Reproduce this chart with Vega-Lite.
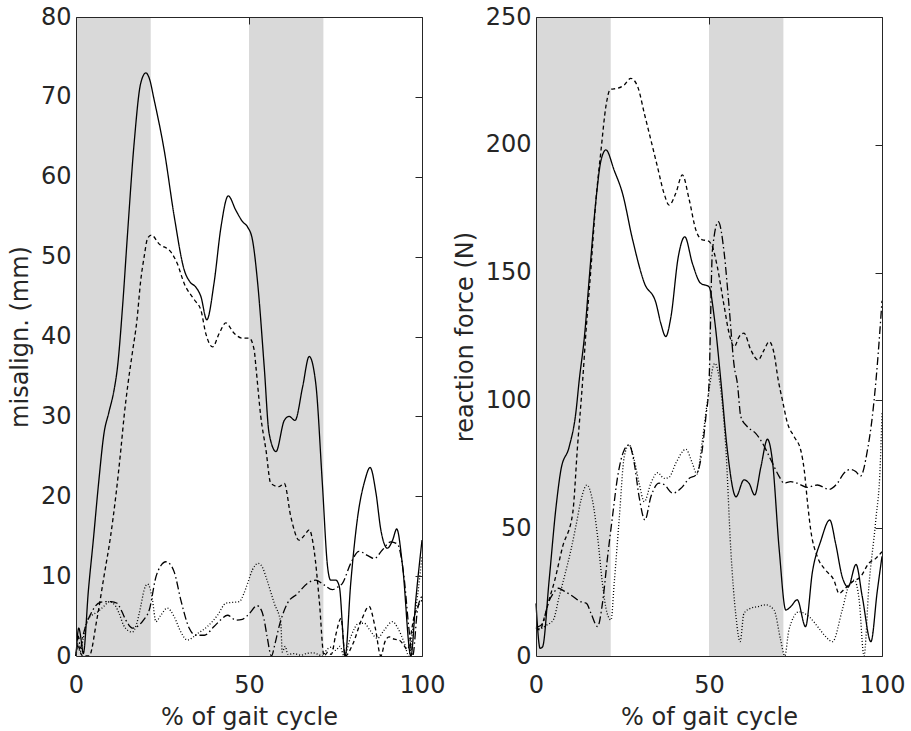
{
  "$schema": "https://vega.github.io/schema/vega-lite/v6.json",
  "background": "white",
  "padding": {"left": 8, "top": 5, "right": 5, "bottom": 5},
  "spacing": 8,
  "config": {
    "view": {"stroke": null},
    "font": "DejaVu Sans",
    "axis": {
      "labelFont": "DejaVu Sans", "titleFont": "DejaVu Sans",
      "labelFontSize": 24, "titleFontSize": 24,
      "labelColor": "#262626", "titleColor": "#262626",
      "titleFontWeight": "normal", "domainColor": "#262626", "tickColor": "#262626",
      "domainWidth": 1, "tickWidth": 1, "grid": false, "labelFlush": false, "labelOverlap": false
    }
  },
  "datasets": {
    "bands": [{"start": 0, "end": 21.6}, {"start": 50, "end": 71.5}],
    "mis": [
      {"s": "a", "x": 0, "y": 0}, {"s": "a", "x": 0.8, "y": 3.5}, {"s": "a", "x": 1.5, "y": 2.0}, {"s": "a", "x": 2.1, "y": 0.3}, {"s": "a", "x": 3.6, "y": 8.3}, {"s": "a", "x": 5, "y": 14.5}, {"s": "a", "x": 6.5, "y": 21.5}, {"s": "a", "x": 8.1, "y": 27.9}, {"s": "a", "x": 9.5, "y": 30.5}, {"s": "a", "x": 11, "y": 33.3}, {"s": "a", "x": 12, "y": 36.2}, {"s": "a", "x": 13.5, "y": 44}, {"s": "a", "x": 14.9, "y": 52.9}, {"s": "a", "x": 16.8, "y": 64.2}, {"s": "a", "x": 18.7, "y": 71.7}, {"s": "a", "x": 20.2, "y": 73.0}, {"s": "a", "x": 21.2, "y": 72.3}, {"s": "a", "x": 22.6, "y": 69.6}, {"s": "a", "x": 25.5, "y": 63.3}, {"s": "a", "x": 28.4, "y": 55.0}, {"s": "a", "x": 31.3, "y": 48.3}, {"s": "a", "x": 33, "y": 46.8}, {"s": "a", "x": 34.6, "y": 46.2}, {"s": "a", "x": 36.1, "y": 45.0}, {"s": "a", "x": 37.8, "y": 42.1}, {"s": "a", "x": 39.9, "y": 46.7}, {"s": "a", "x": 41.9, "y": 53.7}, {"s": "a", "x": 44.0, "y": 57.6}, {"s": "a", "x": 46.2, "y": 55.8}, {"s": "a", "x": 48.1, "y": 54.4}, {"s": "a", "x": 49.6, "y": 53.7}, {"s": "a", "x": 51.0, "y": 52.1}, {"s": "a", "x": 52.5, "y": 46.7}, {"s": "a", "x": 54.4, "y": 36.2}, {"s": "a", "x": 55.8, "y": 27.9}, {"s": "a", "x": 57.8, "y": 25.6}, {"s": "a", "x": 60.2, "y": 29.5}, {"s": "a", "x": 61.6, "y": 30.0}, {"s": "a", "x": 63.3, "y": 29.5}, {"s": "a", "x": 65.5, "y": 33.7}, {"s": "a", "x": 67.4, "y": 37.5}, {"s": "a", "x": 69.3, "y": 34.1}, {"s": "a", "x": 71.2, "y": 21.6}, {"s": "a", "x": 72.7, "y": 11.2}, {"s": "a", "x": 73.6, "y": 9.5}, {"s": "a", "x": 75.1, "y": 9.5}, {"s": "a", "x": 76.1, "y": 8.7}, {"s": "a", "x": 77.8, "y": 0}, {"s": "a", "x": 79.4, "y": 9.1}, {"s": "a", "x": 81.4, "y": 17.4}, {"s": "a", "x": 83.5, "y": 22}, {"s": "a", "x": 85.0, "y": 23.6}, {"s": "a", "x": 86.7, "y": 20.4}, {"s": "a", "x": 88.1, "y": 15.8}, {"s": "a", "x": 90.0, "y": 13.5}, {"s": "a", "x": 91.5, "y": 14.5}, {"s": "a", "x": 92.7, "y": 15.9}, {"s": "a", "x": 94.4, "y": 11.2}, {"s": "a", "x": 96.8, "y": 0}, {"s": "a", "x": 98.2, "y": 7.0}, {"s": "a", "x": 100, "y": 14.5},

      {"s": "b", "x": 0, "y": 0}, {"s": "b", "x": 0.6, "y": 1.5}, {"s": "b", "x": 1.2, "y": 0.5}, {"s": "b", "x": 2, "y": 0}, {"s": "b", "x": 3.8, "y": 0}, {"s": "b", "x": 6, "y": 4.5}, {"s": "b", "x": 8.1, "y": 10}, {"s": "b", "x": 10, "y": 15}, {"s": "b", "x": 11.5, "y": 20}, {"s": "b", "x": 13, "y": 26}, {"s": "b", "x": 13.9, "y": 30}, {"s": "b", "x": 15, "y": 34}, {"s": "b", "x": 16.3, "y": 38}, {"s": "b", "x": 17.6, "y": 42}, {"s": "b", "x": 18.7, "y": 47}, {"s": "b", "x": 19.7, "y": 50}, {"s": "b", "x": 20.7, "y": 52.3}, {"s": "b", "x": 21.8, "y": 52.7}, {"s": "b", "x": 24.0, "y": 51.6}, {"s": "b", "x": 27.4, "y": 50.6}, {"s": "b", "x": 29.3, "y": 49.1}, {"s": "b", "x": 31.3, "y": 46.6}, {"s": "b", "x": 34.2, "y": 44.6}, {"s": "b", "x": 36.1, "y": 43.3}, {"s": "b", "x": 37.5, "y": 40.4}, {"s": "b", "x": 39.5, "y": 38.7}, {"s": "b", "x": 41.4, "y": 40.4}, {"s": "b", "x": 43.3, "y": 41.7}, {"s": "b", "x": 45.7, "y": 40.4}, {"s": "b", "x": 48.1, "y": 39.8}, {"s": "b", "x": 50.1, "y": 39.8}, {"s": "b", "x": 51.5, "y": 38.3}, {"s": "b", "x": 52.0, "y": 36.2}, {"s": "b", "x": 53.4, "y": 30.0}, {"s": "b", "x": 54.9, "y": 25.8}, {"s": "b", "x": 56.3, "y": 21.6}, {"s": "b", "x": 58.7, "y": 21.2}, {"s": "b", "x": 60.2, "y": 21.6}, {"s": "b", "x": 62.1, "y": 17.4}, {"s": "b", "x": 64.5, "y": 14.5}, {"s": "b", "x": 66.0, "y": 15.1}, {"s": "b", "x": 67.4, "y": 15.8}, {"s": "b", "x": 68.8, "y": 13.3}, {"s": "b", "x": 70.3, "y": 7.0}, {"s": "b", "x": 71.7, "y": 0}, {"s": "b", "x": 72.8, "y": 0.5}, {"s": "b", "x": 73.8, "y": 0.2}, {"s": "b", "x": 75, "y": 2.5}, {"s": "b", "x": 76.6, "y": 4.7}, {"s": "b", "x": 77.8, "y": 0}, {"s": "b", "x": 80, "y": 1.5}, {"s": "b", "x": 82.5, "y": 4.5}, {"s": "b", "x": 84.7, "y": 6.2}, {"s": "b", "x": 86.5, "y": 3.5}, {"s": "b", "x": 88.1, "y": 0}, {"s": "b", "x": 89.3, "y": 1.8}, {"s": "b", "x": 90.5, "y": 2.4}, {"s": "b", "x": 92, "y": 2.1}, {"s": "b", "x": 93.4, "y": 2.0}, {"s": "b", "x": 94.5, "y": 1.5}, {"s": "b", "x": 95.8, "y": 0.8}, {"s": "b", "x": 97.7, "y": 4.9}, {"s": "b", "x": 100, "y": 7.0},

      {"s": "c", "x": 0, "y": 0}, {"s": "c", "x": 0.7, "y": 2.5}, {"s": "c", "x": 1.3, "y": 1.0}, {"s": "c", "x": 2, "y": 2.5}, {"s": "c", "x": 3, "y": 4}, {"s": "c", "x": 4.3, "y": 5.3}, {"s": "c", "x": 5.5, "y": 6.2}, {"s": "c", "x": 7, "y": 6.7}, {"s": "c", "x": 8.5, "y": 6.8}, {"s": "c", "x": 10.1, "y": 6.8}, {"s": "c", "x": 11.9, "y": 6.6}, {"s": "c", "x": 13, "y": 5.8}, {"s": "c", "x": 14.4, "y": 4.5}, {"s": "c", "x": 16.3, "y": 3.5}, {"s": "c", "x": 18.3, "y": 3.9}, {"s": "c", "x": 19.5, "y": 4.5}, {"s": "c", "x": 21.2, "y": 5.8}, {"s": "c", "x": 23.1, "y": 9.9}, {"s": "c", "x": 24.5, "y": 11.3}, {"s": "c", "x": 26.0, "y": 11.8}, {"s": "c", "x": 27.2, "y": 11.5}, {"s": "c", "x": 28.4, "y": 10.5}, {"s": "c", "x": 30.3, "y": 7.0}, {"s": "c", "x": 32.7, "y": 3.5}, {"s": "c", "x": 34.6, "y": 2.6}, {"s": "c", "x": 37.1, "y": 2.6}, {"s": "c", "x": 39.9, "y": 3.7}, {"s": "c", "x": 42, "y": 4.6}, {"s": "c", "x": 43.8, "y": 5.1}, {"s": "c", "x": 46.2, "y": 4.5}, {"s": "c", "x": 48.1, "y": 4.6}, {"s": "c", "x": 50.1, "y": 5.3}, {"s": "c", "x": 52.3, "y": 6.3}, {"s": "c", "x": 53.5, "y": 5.8}, {"s": "c", "x": 54.4, "y": 4.5}, {"s": "c", "x": 55.2, "y": 2.5}, {"s": "c", "x": 56.5, "y": 0}, {"s": "c", "x": 57.5, "y": 1.5}, {"s": "c", "x": 58.7, "y": 3.7}, {"s": "c", "x": 61.1, "y": 6.6}, {"s": "c", "x": 64.0, "y": 7.8}, {"s": "c", "x": 66.9, "y": 9.1}, {"s": "c", "x": 69.3, "y": 9.5}, {"s": "c", "x": 71.7, "y": 8.9}, {"s": "c", "x": 74.1, "y": 8.3}, {"s": "c", "x": 75.5, "y": 8.6}, {"s": "c", "x": 77.0, "y": 9.1}, {"s": "c", "x": 79.4, "y": 11.6}, {"s": "c", "x": 81.8, "y": 13.1}, {"s": "c", "x": 84.2, "y": 12.6}, {"s": "c", "x": 86.2, "y": 12.2}, {"s": "c", "x": 88.6, "y": 13.3}, {"s": "c", "x": 91.0, "y": 14.3}, {"s": "c", "x": 92.9, "y": 14.0}, {"s": "c", "x": 94.9, "y": 9.5}, {"s": "c", "x": 96.2, "y": 3.5}, {"s": "c", "x": 97.3, "y": 0}, {"s": "c", "x": 98.7, "y": 5.8}, {"s": "c", "x": 100, "y": 7.5},

      {"s": "d", "x": 0, "y": 0}, {"s": "d", "x": 0.5, "y": 1.5}, {"s": "d", "x": 1.2, "y": 0.5}, {"s": "d", "x": 2, "y": 2}, {"s": "d", "x": 3.3, "y": 4.5}, {"s": "d", "x": 4.6, "y": 5.1}, {"s": "d", "x": 6.2, "y": 5.5}, {"s": "d", "x": 8, "y": 6.2}, {"s": "d", "x": 9.7, "y": 6.8}, {"s": "d", "x": 11.5, "y": 6.2}, {"s": "d", "x": 12.5, "y": 5.3}, {"s": "d", "x": 13.7, "y": 3.9}, {"s": "d", "x": 15, "y": 3.2}, {"s": "d", "x": 16.3, "y": 3.0}, {"s": "d", "x": 17.5, "y": 4}, {"s": "d", "x": 18.7, "y": 6.2}, {"s": "d", "x": 19.7, "y": 8.3}, {"s": "d", "x": 20.7, "y": 9.0}, {"s": "d", "x": 21.5, "y": 8.3}, {"s": "d", "x": 22.1, "y": 7.0}, {"s": "d", "x": 23.1, "y": 4.3}, {"s": "d", "x": 24.5, "y": 5.1}, {"s": "d", "x": 26.4, "y": 6.0}, {"s": "d", "x": 28.4, "y": 4.9}, {"s": "d", "x": 30.3, "y": 3.0}, {"s": "d", "x": 32.2, "y": 2.0}, {"s": "d", "x": 35.1, "y": 2.8}, {"s": "d", "x": 38.0, "y": 3.7}, {"s": "d", "x": 40.9, "y": 5.1}, {"s": "d", "x": 43.3, "y": 6.6}, {"s": "d", "x": 45, "y": 6.7}, {"s": "d", "x": 47.2, "y": 6.8}, {"s": "d", "x": 48.5, "y": 7.8}, {"s": "d", "x": 49.6, "y": 9.1}, {"s": "d", "x": 51, "y": 10.8}, {"s": "d", "x": 52.7, "y": 11.6}, {"s": "d", "x": 54, "y": 11}, {"s": "d", "x": 54.9, "y": 9.9}, {"s": "d", "x": 57.3, "y": 6.6}, {"s": "d", "x": 59.2, "y": 4.1}, {"s": "d", "x": 59.6, "y": 0.5}, {"s": "d", "x": 60.5, "y": 1.2}, {"s": "d", "x": 61.2, "y": 0.2}, {"s": "d", "x": 63, "y": 0.3}, {"s": "d", "x": 65, "y": 0.1}, {"s": "d", "x": 66.5, "y": 0.3}, {"s": "d", "x": 68.4, "y": 0.4}, {"s": "d", "x": 70, "y": 0.2}, {"s": "d", "x": 71.2, "y": 0}, {"s": "d", "x": 72.5, "y": 0.8}, {"s": "d", "x": 73.9, "y": 1.1}, {"s": "d", "x": 75, "y": 0.7}, {"s": "d", "x": 76.3, "y": 1.2}, {"s": "d", "x": 77.5, "y": 0}, {"s": "d", "x": 79.4, "y": 2.4}, {"s": "d", "x": 81.8, "y": 4.1}, {"s": "d", "x": 83.3, "y": 4.1}, {"s": "d", "x": 85, "y": 3.2}, {"s": "d", "x": 87.1, "y": 2.2}, {"s": "d", "x": 89, "y": 3.2}, {"s": "d", "x": 91.5, "y": 4.3}, {"s": "d", "x": 93, "y": 3.5}, {"s": "d", "x": 94.9, "y": 1.6}, {"s": "d", "x": 96.2, "y": 0}, {"s": "d", "x": 97.5, "y": 4}, {"s": "d", "x": 98.7, "y": 7.5}, {"s": "d", "x": 100, "y": 12.5}
    ],
    "force": [
      {"s": "a", "x": 0, "y": 20.6}, {"s": "a", "x": 1.2, "y": 3.0}, {"s": "a", "x": 1.9, "y": 3.6}, {"s": "a", "x": 3.8, "y": 29.7}, {"s": "a", "x": 5.8, "y": 58.4}, {"s": "a", "x": 7.2, "y": 72.8}, {"s": "a", "x": 9.6, "y": 81.9}, {"s": "a", "x": 11.5, "y": 95}, {"s": "a", "x": 12.5, "y": 108}, {"s": "a", "x": 14, "y": 125}, {"s": "a", "x": 15.4, "y": 148}, {"s": "a", "x": 17.3, "y": 178}, {"s": "a", "x": 18.8, "y": 194}, {"s": "a", "x": 20.2, "y": 198}, {"s": "a", "x": 22.6, "y": 190}, {"s": "a", "x": 25, "y": 181}, {"s": "a", "x": 27.9, "y": 163}, {"s": "a", "x": 31.3, "y": 146}, {"s": "a", "x": 34.7, "y": 138}, {"s": "a", "x": 36.1, "y": 130}, {"s": "a", "x": 37.5, "y": 125}, {"s": "a", "x": 39, "y": 132.7}, {"s": "a", "x": 41.1, "y": 156}, {"s": "a", "x": 43, "y": 164}, {"s": "a", "x": 45.2, "y": 153.6}, {"s": "a", "x": 47.6, "y": 145.8}, {"s": "a", "x": 50, "y": 144.5}, {"s": "a", "x": 51.5, "y": 132.7}, {"s": "a", "x": 53.4, "y": 108}, {"s": "a", "x": 55.3, "y": 80.6}, {"s": "a", "x": 57.8, "y": 62.3}, {"s": "a", "x": 60.1, "y": 68.9}, {"s": "a", "x": 61.6, "y": 67.5}, {"s": "a", "x": 63.2, "y": 63}, {"s": "a", "x": 65, "y": 74}, {"s": "a", "x": 66.9, "y": 84.8}, {"s": "a", "x": 68.3, "y": 76.7}, {"s": "a", "x": 70.3, "y": 41.5}, {"s": "a", "x": 72.2, "y": 18}, {"s": "a", "x": 73.6, "y": 19.3}, {"s": "a", "x": 75.5, "y": 22}, {"s": "a", "x": 77.9, "y": 11.5}, {"s": "a", "x": 79.9, "y": 33}, {"s": "a", "x": 82.3, "y": 45}, {"s": "a", "x": 84.9, "y": 53.2}, {"s": "a", "x": 86.6, "y": 44}, {"s": "a", "x": 88.5, "y": 31}, {"s": "a", "x": 90.2, "y": 27}, {"s": "a", "x": 92.5, "y": 35.8}, {"s": "a", "x": 94.3, "y": 23.2}, {"s": "a", "x": 96.8, "y": 5.6}, {"s": "a", "x": 98.6, "y": 25}, {"s": "a", "x": 100, "y": 39},

      {"s": "b", "x": 0, "y": 11}, {"s": "b", "x": 1.2, "y": 10.2}, {"s": "b", "x": 2.4, "y": 15}, {"s": "b", "x": 4, "y": 23}, {"s": "b", "x": 5.3, "y": 29}, {"s": "b", "x": 7.7, "y": 42.8}, {"s": "b", "x": 10.6, "y": 55.8}, {"s": "b", "x": 12.0, "y": 82}, {"s": "b", "x": 13.5, "y": 108}, {"s": "b", "x": 14.4, "y": 126}, {"s": "b", "x": 15.9, "y": 152}, {"s": "b", "x": 17.3, "y": 178}, {"s": "b", "x": 18.8, "y": 198}, {"s": "b", "x": 20.2, "y": 215}, {"s": "b", "x": 21.5, "y": 221.7}, {"s": "b", "x": 23.6, "y": 222.1}, {"s": "b", "x": 25.5, "y": 223.4}, {"s": "b", "x": 27.4, "y": 226}, {"s": "b", "x": 29.4, "y": 222.7}, {"s": "b", "x": 31.3, "y": 212.3}, {"s": "b", "x": 33.2, "y": 201.9}, {"s": "b", "x": 35.1, "y": 191.4}, {"s": "b", "x": 37, "y": 181}, {"s": "b", "x": 38.5, "y": 176.4}, {"s": "b", "x": 40.4, "y": 181}, {"s": "b", "x": 42.3, "y": 188.2}, {"s": "b", "x": 44.3, "y": 178.4}, {"s": "b", "x": 46.2, "y": 166.7}, {"s": "b", "x": 48.1, "y": 162.8}, {"s": "b", "x": 49.6, "y": 162.5}, {"s": "b", "x": 51.0, "y": 160.1}, {"s": "b", "x": 52.4, "y": 152.3}, {"s": "b", "x": 54.4, "y": 136.7}, {"s": "b", "x": 55.8, "y": 126.3}, {"s": "b", "x": 57.3, "y": 121}, {"s": "b", "x": 58.7, "y": 124.9}, {"s": "b", "x": 60.1, "y": 126.3}, {"s": "b", "x": 62.1, "y": 119.7}, {"s": "b", "x": 64.2, "y": 115.8}, {"s": "b", "x": 65.9, "y": 119.7}, {"s": "b", "x": 67.4, "y": 123}, {"s": "b", "x": 68.8, "y": 118.4}, {"s": "b", "x": 70, "y": 108}, {"s": "b", "x": 71.2, "y": 100.2}, {"s": "b", "x": 72.7, "y": 91}, {"s": "b", "x": 74.6, "y": 85.8}, {"s": "b", "x": 76.5, "y": 80.6}, {"s": "b", "x": 77.5, "y": 73}, {"s": "b", "x": 78.5, "y": 59.7}, {"s": "b", "x": 79.4, "y": 49.3}, {"s": "b", "x": 81.3, "y": 38.9}, {"s": "b", "x": 83.7, "y": 33.6}, {"s": "b", "x": 86.1, "y": 29.7}, {"s": "b", "x": 87.6, "y": 24.5}, {"s": "b", "x": 89, "y": 26}, {"s": "b", "x": 91.5, "y": 29.1}, {"s": "b", "x": 93.8, "y": 31}, {"s": "b", "x": 96.2, "y": 36.3}, {"s": "b", "x": 98.2, "y": 38.2}, {"s": "b", "x": 100, "y": 40.8},

      {"s": "c", "x": 0, "y": 11.5}, {"s": "c", "x": 0.7, "y": 11.5}, {"s": "c", "x": 2, "y": 13}, {"s": "c", "x": 3.5, "y": 20.6}, {"s": "c", "x": 5, "y": 24.5}, {"s": "c", "x": 6.5, "y": 26.5}, {"s": "c", "x": 8, "y": 25.5}, {"s": "c", "x": 10.8, "y": 23.2}, {"s": "c", "x": 12.5, "y": 21.5}, {"s": "c", "x": 14.6, "y": 20.6}, {"s": "c", "x": 15.9, "y": 16.7}, {"s": "c", "x": 17.8, "y": 11.5}, {"s": "c", "x": 19.2, "y": 20.6}, {"s": "c", "x": 20.7, "y": 38.9}, {"s": "c", "x": 22.1, "y": 54.5}, {"s": "c", "x": 23.6, "y": 70.2}, {"s": "c", "x": 25.5, "y": 80.6}, {"s": "c", "x": 26.9, "y": 82.6}, {"s": "c", "x": 28.4, "y": 75.4}, {"s": "c", "x": 29.8, "y": 62.3}, {"s": "c", "x": 31.5, "y": 53.2}, {"s": "c", "x": 33.2, "y": 62.3}, {"s": "c", "x": 35.6, "y": 67.6}, {"s": "c", "x": 37.1, "y": 67}, {"s": "c", "x": 39.5, "y": 63.7}, {"s": "c", "x": 41.9, "y": 65.6}, {"s": "c", "x": 44.3, "y": 69.5}, {"s": "c", "x": 46.2, "y": 70.8}, {"s": "c", "x": 47.6, "y": 76.7}, {"s": "c", "x": 49.1, "y": 93.6}, {"s": "c", "x": 50, "y": 106.7}, {"s": "c", "x": 51, "y": 158.8}, {"s": "c", "x": 52.7, "y": 169.9}, {"s": "c", "x": 54.4, "y": 157.5}, {"s": "c", "x": 55.8, "y": 136.7}, {"s": "c", "x": 57.3, "y": 113.2}, {"s": "c", "x": 58.2, "y": 106.7}, {"s": "c", "x": 59.2, "y": 93.6}, {"s": "c", "x": 61.1, "y": 89.7}, {"s": "c", "x": 63.5, "y": 87.1}, {"s": "c", "x": 65.5, "y": 83.2}, {"s": "c", "x": 67.9, "y": 76.7}, {"s": "c", "x": 70.3, "y": 70.2}, {"s": "c", "x": 71.7, "y": 67.6}, {"s": "c", "x": 73.6, "y": 68.2}, {"s": "c", "x": 75.5, "y": 67.6}, {"s": "c", "x": 78.4, "y": 66}, {"s": "c", "x": 81.3, "y": 66.9}, {"s": "c", "x": 84.7, "y": 65.2}, {"s": "c", "x": 87.1, "y": 67.6}, {"s": "c", "x": 89, "y": 71.5}, {"s": "c", "x": 91, "y": 73}, {"s": "c", "x": 92.4, "y": 72.2}, {"s": "c", "x": 93.8, "y": 70.4}, {"s": "c", "x": 95.8, "y": 80.6}, {"s": "c", "x": 97.2, "y": 93.6}, {"s": "c", "x": 98.6, "y": 113.2}, {"s": "c", "x": 100, "y": 139},

      {"s": "d", "x": 0, "y": 11.5}, {"s": "d", "x": 1.2, "y": 10.7}, {"s": "d", "x": 3.1, "y": 12.1}, {"s": "d", "x": 5, "y": 14.1}, {"s": "d", "x": 6.7, "y": 23.2}, {"s": "d", "x": 8.2, "y": 31}, {"s": "d", "x": 10.1, "y": 41.5}, {"s": "d", "x": 11.5, "y": 50.6}, {"s": "d", "x": 13, "y": 61}, {"s": "d", "x": 14.7, "y": 66.9}, {"s": "d", "x": 16.3, "y": 61}, {"s": "d", "x": 17.8, "y": 46.7}, {"s": "d", "x": 19.2, "y": 28.4}, {"s": "d", "x": 20.5, "y": 17}, {"s": "d", "x": 21.7, "y": 14.1}, {"s": "d", "x": 22.6, "y": 28.4}, {"s": "d", "x": 24.1, "y": 54.5}, {"s": "d", "x": 25.5, "y": 78}, {"s": "d", "x": 26.9, "y": 82.6}, {"s": "d", "x": 28.4, "y": 76.7}, {"s": "d", "x": 29.8, "y": 67.6}, {"s": "d", "x": 31.3, "y": 60.4}, {"s": "d", "x": 33.2, "y": 67.6}, {"s": "d", "x": 35.1, "y": 71.7}, {"s": "d", "x": 37.1, "y": 69.5}, {"s": "d", "x": 38.5, "y": 70}, {"s": "d", "x": 40.4, "y": 75.4}, {"s": "d", "x": 43.3, "y": 80.9}, {"s": "d", "x": 45.2, "y": 75.4}, {"s": "d", "x": 46.5, "y": 71.2}, {"s": "d", "x": 48.1, "y": 84.5}, {"s": "d", "x": 49.6, "y": 100.2}, {"s": "d", "x": 51.7, "y": 114.5}, {"s": "d", "x": 53.4, "y": 104.1}, {"s": "d", "x": 54.9, "y": 80.6}, {"s": "d", "x": 56.3, "y": 41.5}, {"s": "d", "x": 57.8, "y": 15.4}, {"s": "d", "x": 59, "y": 5.6}, {"s": "d", "x": 60.1, "y": 16.7}, {"s": "d", "x": 62.1, "y": 18.7}, {"s": "d", "x": 64, "y": 19.3}, {"s": "d", "x": 66.4, "y": 20}, {"s": "d", "x": 68.8, "y": 18}, {"s": "d", "x": 70.7, "y": 6.3}, {"s": "d", "x": 71.9, "y": 0}, {"s": "d", "x": 73.1, "y": 10.2}, {"s": "d", "x": 76, "y": 17.3}, {"s": "d", "x": 78.9, "y": 15.4}, {"s": "d", "x": 81.8, "y": 10.8}, {"s": "d", "x": 83.7, "y": 7.6}, {"s": "d", "x": 85.7, "y": 5.6}, {"s": "d", "x": 88.5, "y": 18}, {"s": "d", "x": 90.5, "y": 27.8}, {"s": "d", "x": 92, "y": 29.7}, {"s": "d", "x": 93.4, "y": 21.9}, {"s": "d", "x": 94.8, "y": 0}, {"s": "d", "x": 96.2, "y": 27.1}, {"s": "d", "x": 98.2, "y": 53.2}, {"s": "d", "x": 99.5, "y": 75}, {"s": "d", "x": 100, "y": 95}
    ]
  },
  "hconcat": [
    {
      "width": 346, "height": 639,
      "layer": [
        {
          "data": {"name": "bands"},
          "mark": {"type": "rect", "color": "#d9d9d9"},
          "encoding": {
            "x": {"field": "start", "type": "quantitative", "scale": {"domain": [0, 100], "nice": false, "zero": false},
                  "axis": {"orient": "bottom", "offset": -639, "labels": false, "title": null, "tickSize": 7, "values": [0, 50, 100], "zindex": 1}},
            "x2": {"field": "end"},
            "y": {"datum": 0, "type": "quantitative", "scale": {"domain": [0, 80], "nice": false},
                  "axis": {"orient": "left", "offset": -346, "labels": false, "title": null, "tickSize": 7, "values": [0, 10, 20, 30, 40, 50, 60, 70, 80], "zindex": 1}},
            "y2": {"datum": 80}
          }
        },
        {
          "data": {"name": "mis"},
          "mark": {"type": "line", "interpolate": "monotone", "color": "black", "strokeWidth": 1.3},
          "encoding": {
            "x": {"field": "x", "type": "quantitative",
                  "axis": {"orient": "bottom", "title": "% of gait cycle", "values": [0, 50, 100], "ticks": false, "labelPadding": 17, "titlePadding": 8, "zindex": 1}},
            "y": {"field": "y", "type": "quantitative",
                  "axis": {"orient": "left", "title": "misalign. (mm)", "values": [0, 10, 20, 30, 40, 50, 60, 70, 80], "ticks": false, "labelPadding": 5, "titlePadding": 8, "zindex": 1}},
            "strokeDash": {"field": "s", "type": "nominal",
                  "scale": {"domain": ["a", "b", "c", "d"], "range": [[1, 0], [4, 3], [8, 3, 1.5, 3], [1, 2]]}, "legend": null}
          }
        }
      ],
      "resolve": {"axis": {"x": "independent", "y": "independent"}}
    },
    {
      "width": 346, "height": 639,
      "layer": [
        {
          "data": {"name": "bands"},
          "mark": {"type": "rect", "color": "#d9d9d9"},
          "encoding": {
            "x": {"field": "start", "type": "quantitative", "scale": {"domain": [0, 100], "nice": false, "zero": false},
                  "axis": {"orient": "bottom", "offset": -639, "labels": false, "title": null, "tickSize": 7, "values": [0, 50, 100], "zindex": 1}},
            "x2": {"field": "end"},
            "y": {"datum": 0, "type": "quantitative", "scale": {"domain": [0, 250], "nice": false},
                  "axis": {"orient": "left", "offset": -346, "labels": false, "title": null, "tickSize": 7, "values": [0, 50, 100, 150, 200, 250], "zindex": 1}},
            "y2": {"datum": 250}
          }
        },
        {
          "data": {"name": "force"},
          "mark": {"type": "line", "interpolate": "monotone", "color": "black", "strokeWidth": 1.3},
          "encoding": {
            "x": {"field": "x", "type": "quantitative",
                  "axis": {"orient": "bottom", "title": "% of gait cycle", "values": [0, 50, 100], "ticks": false, "labelPadding": 17, "titlePadding": 8, "zindex": 1}},
            "y": {"field": "y", "type": "quantitative",
                  "axis": {"orient": "left", "title": "reaction force (N)", "values": [0, 50, 100, 150, 200, 250], "ticks": false, "labelPadding": 5, "titlePadding": 8, "zindex": 1}},
            "strokeDash": {"field": "s", "type": "nominal",
                  "scale": {"domain": ["a", "b", "c", "d"], "range": [[1, 0], [4, 3], [8, 3, 1.5, 3], [1, 2]]}, "legend": null}
          }
        }
      ],
      "resolve": {"axis": {"x": "independent", "y": "independent"}}
    }
  ]
}
